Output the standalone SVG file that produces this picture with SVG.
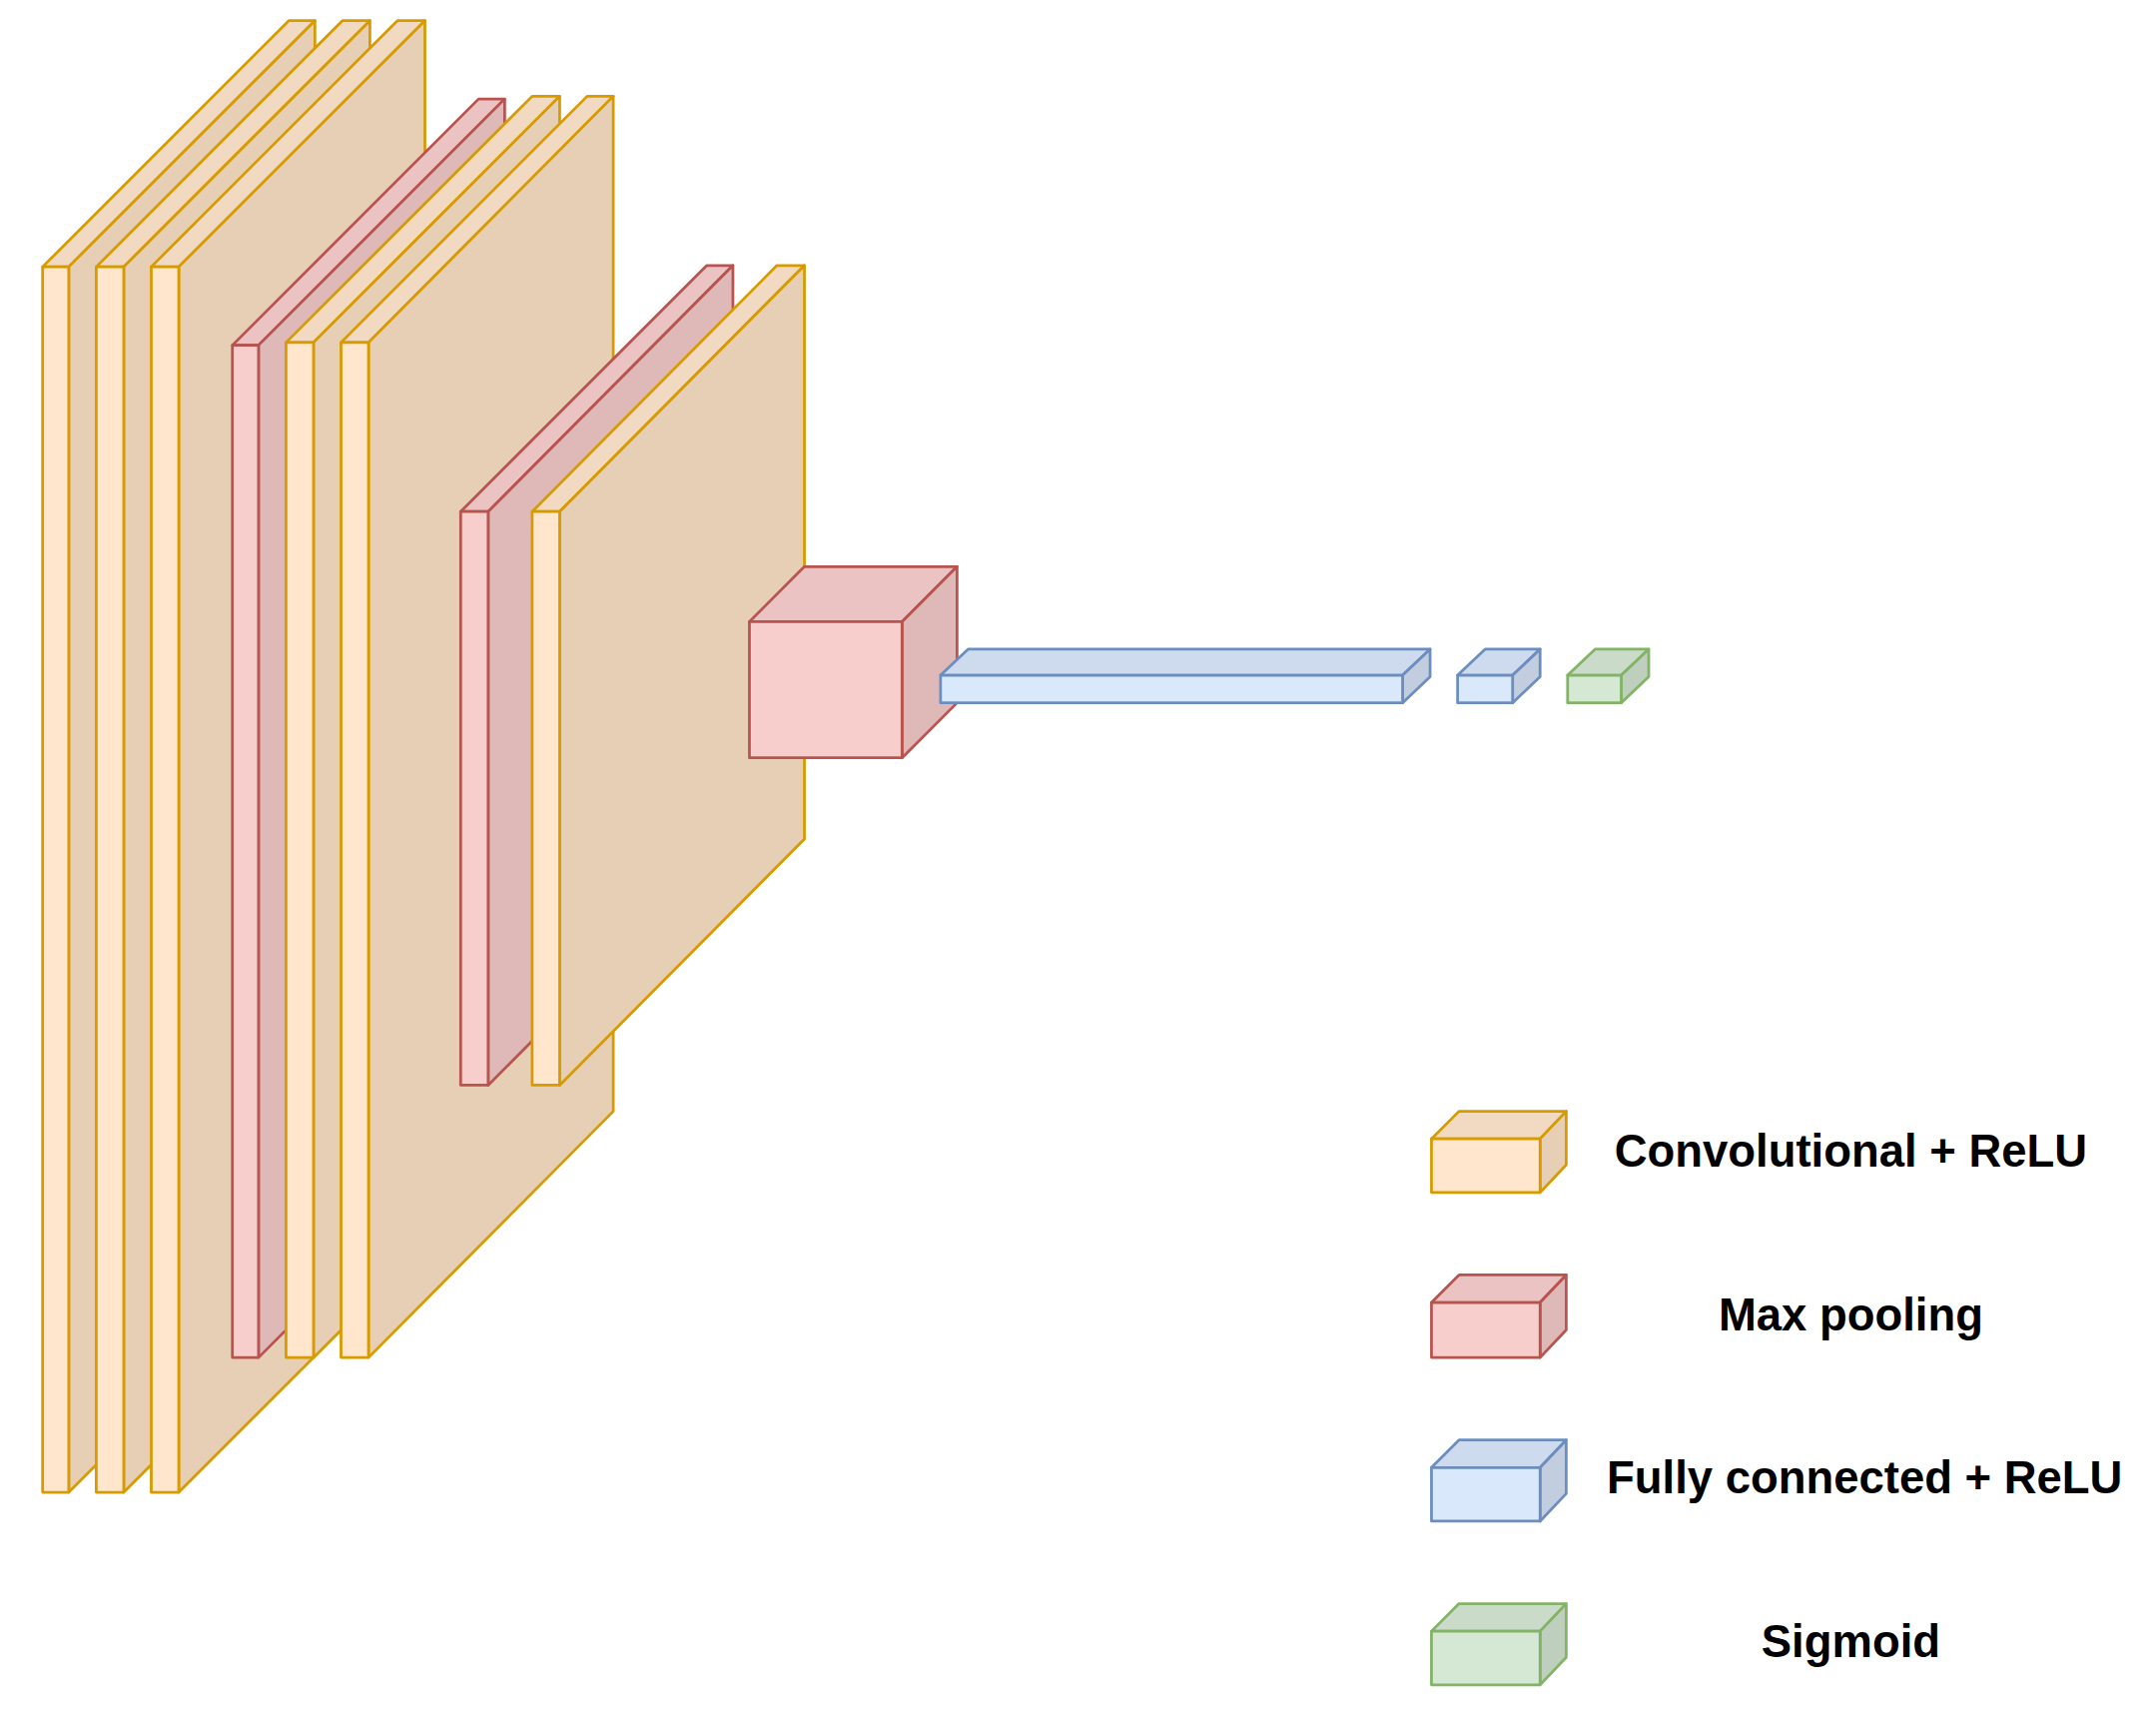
<svg xmlns="http://www.w3.org/2000/svg" width="2159" height="1711" viewBox="0 0 2159 1711">
<style>
.c path,.c rect{stroke:#d79b00;stroke-width:2;stroke-linejoin:round}
.c .f{fill:#ffe6cc}.c .t{fill:#f2dac2}.c .s{fill:#e6cfb4}
.p path,.p rect{stroke:#b85450;stroke-width:2;stroke-linejoin:round}
.p .f{fill:#f8cecc}.p .t{fill:#ebc3c2}.p .s{fill:#dfb9b8}
.b path,.b rect{stroke:#6c8ebf;stroke-width:2;stroke-linejoin:round}
.b .f{fill:#dae8fc}.b .t{fill:#cedbef}.b .s{fill:#c2cde0}
.g path,.g rect{stroke:#82b366;stroke-width:2;stroke-linejoin:round}
.g .f{fill:#d5e8d4}.g .t{fill:#cadbc9}.g .s{fill:#bed0bd}
text{font-family:"Liberation Sans",Arial,sans-serif;font-weight:bold;font-size:33px;fill:#000;text-anchor:middle}
</style>
<rect width="2159" height="1711" fill="#fff"/>
<g transform="scale(1.377)">
<g id="conv1a" class="c"><path class="t" d="M31,194L210,15L229,15L50,194Z"/><path class="s" d="M50,194L229,15L229,906L50,1085Z"/><rect class="f" x="31" y="194" width="19" height="891"/></g>
<g id="conv1b" class="c"><path class="t" d="M70,194L249,15L269,15L90,194Z"/><path class="s" d="M90,194L269,15L269,906L90,1085Z"/><rect class="f" x="70" y="194" width="20" height="891"/></g>
<g id="conv1c" class="c"><path class="t" d="M110,194L289,15L309,15L130,194Z"/><path class="s" d="M130,194L309,15L309,906L130,1085Z"/><rect class="f" x="110" y="194" width="20" height="891"/></g>
<g id="pool2" class="p"><path class="t" d="M169,251L348,72L367,72L188,251Z"/><path class="s" d="M188,251L367,72L367,808L188,987Z"/><rect class="f" x="169" y="251" width="19" height="736"/></g>
<g id="conv2a" class="c"><path class="t" d="M208,249L387,70L407,70L228,249Z"/><path class="s" d="M228,249L407,70L407,808L228,987Z"/><rect class="f" x="208" y="249" width="20" height="738"/></g>
<g id="conv2b" class="c"><path class="t" d="M248,249L427,70L446,70L268,249Z"/><path class="s" d="M268,249L446,70L446,808L268,987Z"/><rect class="f" x="248" y="249" width="20" height="738"/></g>
<g id="pool3" class="p"><path class="t" d="M335,372L514,193L533,193L355,372Z"/><path class="s" d="M355,372L533,193L533,610L355,789Z"/><rect class="f" x="335" y="372" width="20" height="417"/></g>
<g id="conv3" class="c"><path class="t" d="M387,372L565,193L585,193L407,372Z"/><path class="s" d="M407,372L585,193L585,610L407,789Z"/><rect class="f" x="387" y="372" width="20" height="417"/></g>
<g id="pool4" class="p"><path class="t" d="M545,452L585,412L696,412L656,452Z"/><path class="s" d="M656,452L696,412L696,511L656,551Z"/><rect class="f" x="545" y="452" width="111" height="99"/></g>
<g id="fc1" class="b"><path class="t" d="M684,491L704,472L1040,472L1020,491Z"/><path class="s" d="M1020,491L1040,472L1040,492L1020,511Z"/><rect class="f" x="684" y="491" width="336" height="20"/></g>
<g id="fc2" class="b"><path class="t" d="M1060,491L1080,472L1120,472L1100,491Z"/><path class="s" d="M1100,491L1120,472L1120,492L1100,511Z"/><rect class="f" x="1060" y="491" width="40" height="20"/></g>
<g id="sig" class="g"><path class="t" d="M1140,491L1160,472L1199,472L1179,491Z"/><path class="s" d="M1179,491L1199,472L1199,492L1179,511Z"/><rect class="f" x="1140" y="491" width="39" height="20"/></g>
<g id="leg-conv" class="c"><path class="t" d="M1041,828L1061,808L1139,808L1120,828Z"/><path class="s" d="M1120,828L1139,808L1139,847L1120,867Z"/><rect class="f" x="1041" y="828" width="79" height="39"/><text x="1346" y="848">Convolutional + ReLU</text></g>
<g id="leg-pool" class="p"><path class="t" d="M1041,947L1061,927L1139,927L1120,947Z"/><path class="s" d="M1120,947L1139,927L1139,967L1120,987Z"/><rect class="f" x="1041" y="947" width="79" height="40"/><text x="1346" y="967">Max pooling</text></g>
<g id="leg-fc" class="b"><path class="t" d="M1041,1067L1061,1047L1139,1047L1120,1067Z"/><path class="s" d="M1120,1067L1139,1047L1139,1086L1120,1106Z"/><rect class="f" x="1041" y="1067" width="79" height="39"/><text x="1356" y="1086">Fully connected + ReLU</text></g>
<g id="leg-sig" class="g"><path class="t" d="M1041,1186L1061,1166L1139,1166L1120,1186Z"/><path class="s" d="M1120,1186L1139,1166L1139,1205L1120,1225Z"/><rect class="f" x="1041" y="1186" width="79" height="39"/><text x="1346" y="1205">Sigmoid</text></g>
<g id="connectors"/>
</g>
</svg>
